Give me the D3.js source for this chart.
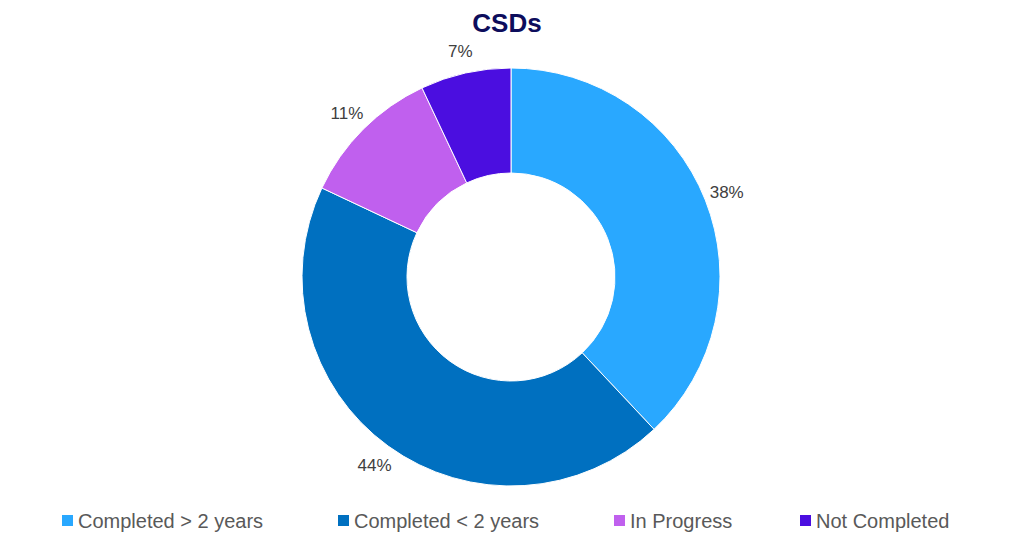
<!DOCTYPE html>
<html><head><meta charset="utf-8">
<script src="https://cdn.jsdelivr.net/npm/d3@7"></script>
<style>body{margin:0;background:#fff;font-family:"Liberation Sans",Arial,sans-serif}</style>
</head><body><svg id="c" width="1014" height="553"></svg>
<script>
const categories=["Completed > 2 years","Completed < 2 years","In Progress","Not Completed"];
const values=[38,44,11,7];
const colors=["#29a8ff","#0070c0","#c060ee","#4b0ee0"];
const svg=d3.select("#c");
svg.append("text").attr("x",507).attr("y",32).attr("text-anchor","middle").attr("font-size",26).attr("font-weight","bold").attr("fill","#0d0d5c").text("CSDs");
const g=svg.append("g").attr("transform","translate(511,277)");
const pie=d3.pie().sort(null).value(d=>d)(values);
const arc=d3.arc().innerRadius(104).outerRadius(209);
g.selectAll("path").data(pie).join("path").attr("d",arc).attr("fill",(d,i)=>colors[i]).attr("stroke","#fff").attr("stroke-width",1);
const la=d3.arc().innerRadius(232).outerRadius(232);
g.selectAll("text").data(pie).join("text").attr("transform",d=>`translate(${la.centroid(d)})`).attr("text-anchor","middle").attr("dy","0.35em").attr("font-size",17).attr("fill","#404040").text(d=>d.data+"%");
const lx=[62,338,614,800];
const lg=svg.selectAll(".l").data(categories).join("g").attr("transform",(d,i)=>`translate(${lx[i]},521)`);
lg.append("rect").attr("x",0).attr("y",-6).attr("width",11).attr("height",11).attr("fill",(d,i)=>colors[i]);
lg.append("text").attr("x",16).attr("dy","0.35em").attr("font-size",20).attr("fill","#595959").text(d=>d);
</script></body></html>
